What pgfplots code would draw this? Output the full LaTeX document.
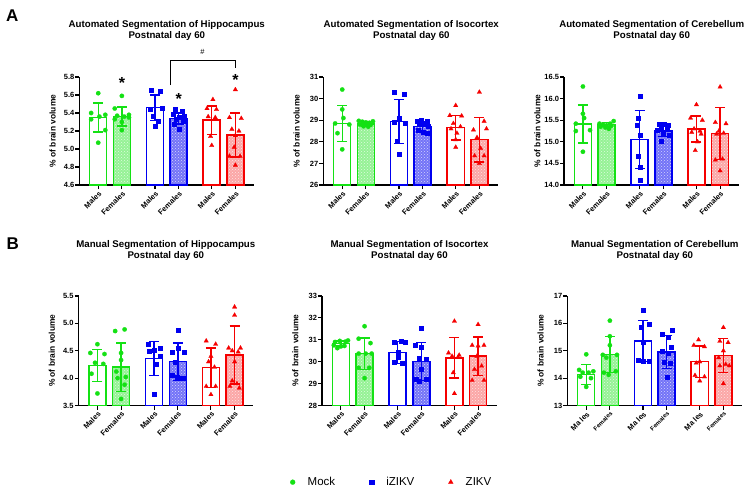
\documentclass[border=0pt]{standalone}
\usepackage{fontspec}
\setmainfont{Liberation Sans}
\usepackage{pgfplots}
\pgfplotsset{compat=1.18}
\usetikzlibrary{patterns}
\definecolor{mg}{RGB}{20,225,20}
\definecolor{mb}{RGB}{0,0,240}
\definecolor{mr}{RGB}{245,0,0}
\newcommand\tickfont{\bfseries\fontsize{7.5}{8}\selectfont}
\newcommand\labfont{\bfseries\fontsize{8.4}{9}\selectfont}
\newcommand\titfont{\bfseries\fontsize{9.7}{11}\selectfont}
\newcommand\astfont{\bfseries\fontsize{16}{16}\selectfont}
\pgfplotsset{
  panel/.style={
    scale only axis, width=175pt, height=108pt, anchor=south west,
    axis lines=left, axis line style={-, line width=1.4pt},
    xmin=-0.8, xmax=6.6,
    xtick={0,1,2.4,3.4,4.8,5.8},
    xticklabels={Males,Females,Males,Females,Males,Females},
    x tick label style={rotate=45, anchor=north east, font=\tickfont, inner sep=1pt},
    y tick label style={font=\tickfont, inner sep=0.8pt},
    tick style={black, line width=1.1pt},
    major tick length=4pt, tick align=outside,
    ylabel={\% of brain volume},
    ylabel style={font=\labfont, at={(axis description cs:-0.152,0.5)}, anchor=center},
    clip mode=individual,
    /pgf/number format/assume math mode=true,
  },
  mbar/.style={ybar, bar shift=0pt, bar width=0.72, draw=#1, line width=1.5pt, fill=white,
    error bars/y dir=both, error bars/y explicit,
    error bars/error bar style={line width=1.4pt, draw=#1},
    error bars/error mark options={rotate=90, mark size=5pt, line width=1.4pt, draw=#1}},
  fbar/.style 2 args={ybar, bar shift=0pt, bar width=0.72, draw=#1, line width=1.5pt, fill=#2,
    postaction={pattern=crosshatch dots, pattern color=white!70!#2},
    error bars/y dir=both, error bars/y explicit,
    error bars/error bar style={line width=1.4pt, draw=#1},
    error bars/error mark options={rotate=90, mark size=5pt, line width=1.4pt, draw=#1}},
  pts/.style 2 args={only marks, mark=#2, mark size=2.2pt, color=#1, mark options={fill=#1, draw=#1, line width=0.2pt}},
  gp/.style={pts={mg}{*}},
  bp/.style={pts={mb}{square*}, mark size=2pt},
  rp/.style={pts={mr}{triangle*}, mark size=2.6pt},
}
\begin{document}
\begin{tikzpicture}
\useasboundingbox (0,0) rectangle (751pt,-492pt);
% panel letters
\node[font=\bfseries\fontsize{17}{17}\selectfont, anchor=base west, inner sep=0pt] at (6pt,-21.7pt) {A};
\node[font=\bfseries\fontsize{17}{17}\selectfont, anchor=base west, inner sep=0pt] at (6.5pt,-249pt) {B};
% titles
\foreach \x/\t in {166.8/Hippocampus, 411.3/Isocortex, 651.7/Cerebellum}{
  \node[font=\titfont, anchor=base, inner sep=0pt] at (\x pt,-27.7pt) {Automated Segmentation of \t};
  \node[font=\titfont, anchor=base, inner sep=0pt] at (\x pt,-39pt) {Postnatal day 60};
}
\foreach \x/\t in {165.8/Hippocampus, 409.5/Isocortex, 654.8/Cerebellum}{
  \node[font=\titfont, anchor=base, inner sep=0pt] at (\x pt,-247pt) {Manual Segmentation of \t};
  \node[font=\titfont, anchor=base, inner sep=0pt] at (\x pt,-258.7pt) {Postnatal day 60};
}

% ---------- A1 ----------
\begin{axis}[panel, at={(79.3pt,-185pt)}, ymin=4.6, ymax=5.8,
  ytick={4.6,4.8,5.0,5.2,5.4,5.6,5.8},
  yticklabel style={/pgf/number format/.cd, fixed, fixed zerofill, precision=1}]
\addplot[mbar=mg] coordinates {(0,5.35) +- (0,0.16)};
\addplot[fbar={mg}{mg!45}] coordinates {(1,5.36) +- (0,0.105)};
\addplot[mbar=mb] coordinates {(2.4,5.46) +- (0,0.14)};
\addplot[fbar={mb}{mb!55}] coordinates {(3.4,5.34) +- (0,0.06)};
\addplot[mbar=mr] coordinates {(4.8,5.32) +- (0,0.16)};
\addplot[fbar={mr}{mr!35}] coordinates {(5.8,5.155) +- (0,0.245)};
\addplot[gp] coordinates {(0,5.62) (-0.3,5.40) (0.3,5.38) (0.05,5.36) (-0.3,5.33) (0.3,5.21) (0,5.07)};
\addplot[gp] coordinates {(1.0,5.59) (0.7,5.45) (1.3,5.38) (0.8,5.37) (1.1,5.36) (1.3,5.35) (0.7,5.33) (1.0,5.30) (1.0,5.21)};
\addplot[bp] coordinates {(2.25,5.65) (2.6,5.64) (2.7,5.45) (2.2,5.44) (2.3,5.37) (2.55,5.31) (2.4,5.25)};
\addplot[bp] coordinates {(3.25,5.44) (3.55,5.42) (3.15,5.39) (3.65,5.37) (3.4,5.35) (3.3,5.33) (3.6,5.31) (3.2,5.28) (3.4,5.22)};
\addplot[rp] coordinates {(4.85,5.55) (4.6,5.45) (5.0,5.44) (4.65,5.36) (4.95,5.35) (4.75,5.14) (4.8,5.04)};
\addplot[rp] coordinates {(5.8,5.66) (5.55,5.35) (6.05,5.34) (5.65,5.22) (5.95,5.20) (5.8,5.15) (5.75,5.02) (5.55,4.92) (6.0,4.92) (5.8,4.82)};
\node[anchor=north, inner sep=0pt, font=\astfont] at (axis cs:1,5.797) {*};
\node[anchor=north, inner sep=0pt, font=\astfont] at (axis cs:3.4,5.619) {*};
\node[anchor=north, inner sep=0pt, font=\astfont] at (axis cs:5.8,5.833) {*};
\draw[line width=1.2pt] (axis cs:3.04,5.71) -- (axis cs:3.04,5.98) -- (axis cs:5.8,5.98) -- (axis cs:5.8,5.90);
\node[font=\fontsize{7.5}{8}\selectfont, inner sep=0pt] at (axis cs:4.41,6.08) {\#};
\end{axis}

% ---------- A2 ----------
\begin{axis}[panel, at={(323.3pt,-185pt)}, ymin=26, ymax=31, ytick={26,27,28,29,30,31}]
\addplot[mbar=mg] coordinates {(0,28.85) +- (0,0.83)};
\addplot[fbar={mg}{mg!45}] coordinates {(1,28.82) +- (0,0.1)};
\addplot[mbar=mb] coordinates {(2.4,28.95) +- (0,1.02)};
\addplot[fbar={mb}{mb!55}] coordinates {(3.4,28.7) +- (0,0.25)};
\addplot[mbar=mr] coordinates {(4.8,28.66) +- (0,0.57)};
\addplot[fbar={mr}{mr!35}] coordinates {(5.8,28.1) +- (0,1.03)};
\addplot[gp] coordinates {(0,30.42) (0,29.5) (0.05,29.1) (-0.3,28.85) (0.3,28.8) (-0.2,28.4) (0,27.65)};
\addplot[gp] coordinates {(0.7,28.97) (0.85,28.93) (1.0,28.9) (1.15,28.88) (1.3,28.95) (0.75,28.8) (1.2,28.78) (0.9,28.72) (1.1,28.7)};
\addplot[bp] coordinates {(2.2,30.3) (2.6,30.2) (2.4,29.1) (2.2,28.9) (2.65,28.85) (2.3,28.05) (2.4,27.45)};
\addplot[bp] coordinates {(3.15,28.98) (3.35,29.0) (3.6,28.97) (3.25,28.85) (3.5,28.8) (3.65,28.75) (3.2,28.55) (3.4,28.45) (3.6,28.38)};
\addplot[rp] coordinates {(4.8,29.68) (4.55,29.22) (5.05,29.2) (4.7,28.85) (5.0,28.7) (4.6,28.6) (4.85,28.4) (4.8,28.1) (4.8,27.75)};
\addplot[rp] coordinates {(5.8,30.3) (6.0,28.95) (5.55,28.55) (6.1,28.6) (5.7,28.2) (5.85,27.7) (5.6,27.35) (6.0,27.35) (5.8,27.0)};
\end{axis}

% ---------- A3 ----------
\begin{axis}[panel, at={(564pt,-185pt)}, ymin=14, ymax=16.5,
  ytick={14,14.5,15,15.5,16,16.5},
  yticklabel style={/pgf/number format/.cd, fixed, fixed zerofill, precision=1}]
\addplot[mbar=mg] coordinates {(0,15.41) +- (0,0.44)};
\addplot[fbar={mg}{mg!45}] coordinates {(1,15.4) +- (0,0.05)};
\addplot[mbar=mb] coordinates {(2.4,15.05) +- (0,0.67)};
\addplot[fbar={mb}{mb!55}] coordinates {(3.4,15.25) +- (0,0.13)};
\addplot[mbar=mr] coordinates {(4.8,15.3) +- (0,0.3)};
\addplot[fbar={mr}{mr!35}] coordinates {(5.8,15.19) +- (0,0.6)};
\addplot[gp] coordinates {(0,16.28) (0,15.65) (0.05,15.55) (-0.3,15.42) (0.3,15.27) (-0.3,15.25) (0,14.77)};
\addplot[gp] coordinates {(0.7,15.42) (0.85,15.4) (1.0,15.38) (1.15,15.42) (1.3,15.48) (0.75,15.35) (1.2,15.37) (0.95,15.33) (1.1,15.3)};
\addplot[bp] coordinates {(2.4,16.06) (2.35,15.55) (2.3,15.38) (2.4,15.15) (2.35,14.67) (2.4,14.42) (2.4,14.12)};
\addplot[bp] coordinates {(3.2,15.42) (3.45,15.42) (3.6,15.38) (3.3,15.35) (3.55,15.3) (3.15,15.27) (3.4,15.2) (3.65,15.15) (3.3,15.01)};
\addplot[rp] coordinates {(4.8,15.86) (4.55,15.55) (5.05,15.5) (4.7,15.3) (4.95,15.25) (4.6,15.22) (5.0,15.18) (4.85,15.0) (4.75,14.8)};
\addplot[rp] coordinates {(5.8,16.27) (5.6,15.45) (6.05,15.42) (5.75,15.25) (5.95,15.2) (5.65,15.18) (5.9,14.6) (5.6,14.58) (5.8,14.33)};
\end{axis}

% ---------- B1 ----------
\begin{axis}[panel, at={(78.5pt,-405.5pt)}, height=109.5pt, ymin=3.5, ymax=5.5,
  ytick={3.5,4,4.5,5,5.5},
  yticklabel style={/pgf/number format/.cd, fixed, fixed zerofill, precision=1}]
\addplot[mbar=mg] coordinates {(0,4.23) +- (0,0.29)};
\addplot[fbar={mg}{mg!45}] coordinates {(1,4.2) +- (0,0.44)};
\addplot[mbar=mb] coordinates {(2.4,4.36) +- (0,0.31)};
\addplot[fbar={mb}{mb!55}] coordinates {(3.4,4.3) +- (0,0.34)};
\addplot[mbar=mr] coordinates {(4.8,4.19) +- (0,0.36)};
\addplot[fbar={mr}{mr!35}] coordinates {(5.8,4.42) +- (0,0.53)};
\addplot[gp] coordinates {(0,4.62) (-0.3,4.46) (0.3,4.44) (-0.1,4.28) (0.25,4.26) (-0.25,4.08) (0,3.72)};
\addplot[gp] coordinates {(0.75,4.86) (1.15,4.89) (1.0,4.46) (1.0,4.33) (0.8,4.12) (1.2,4.02) (0.85,4.0) (1.15,3.88) (1.0,3.62)};
\addplot[bp] coordinates {(2.15,4.62) (2.4,4.52) (2.65,4.55) (2.65,4.4) (2.2,4.49) (2.5,4.25) (2.4,3.7)};
\addplot[bp] coordinates {(3.4,4.88) (3.4,4.55) (3.15,4.48) (3.65,4.47) (3.3,4.3) (3.15,4.05) (3.35,4.02) (3.55,4.0) (3.65,4.0)};
\addplot[rp] coordinates {(4.6,4.68) (5.0,4.62) (4.8,4.4) (4.7,4.3) (4.95,4.2) (4.6,3.85) (5.0,3.85) (4.8,3.7)};
\addplot[rp] coordinates {(5.8,5.3) (5.8,5.15) (5.55,4.55) (6.05,4.55) (5.7,4.5) (5.95,4.48) (5.8,4.3) (5.7,3.95) (5.9,3.9) (5.6,3.85) (6.0,3.82)};
\end{axis}

% ---------- B2 ----------
\begin{axis}[panel, at={(322pt,-405.5pt)}, height=109.5pt, ymin=28, ymax=33, ytick={28,29,30,31,32,33},
  legend style={at={(axis description cs:-0.2,-0.70)}, anchor=west, draw=none, fill=none,
    legend columns=3, font=\fontsize{11.5}{12}\selectfont,
    /tikz/every odd column/.append style={column sep=10.5pt},
    /tikz/every even column/.append style={column sep=32pt}}]
\addplot[mbar=mg, forget plot] coordinates {(0,30.83) +- (0,0.11)};
\addplot[fbar={mg}{mg!45}, forget plot] coordinates {(1,30.37) +- (0,0.72)};
\addplot[mbar=mb, forget plot] coordinates {(2.4,30.42) +- (0,0.5)};
\addplot[fbar={mb}{mb!55}, forget plot] coordinates {(3.4,30.0) +- (0,0.87)};
\addplot[mbar=mr, forget plot] coordinates {(4.8,30.18) +- (0,0.93)};
\addplot[fbar={mr}{mr!35}, forget plot] coordinates {(5.8,30.25) +- (0,0.87)};
\addplot[gp, forget plot] coordinates {(-0.25,30.9) (-0.05,30.95) (0.2,30.92) (0.3,30.97) (-0.3,30.75) (0.0,30.7) (0.15,30.72) (-0.15,30.62)};
\addplot[gp, forget plot] coordinates {(1.0,31.62) (0.75,31.05) (1.25,30.85) (0.75,30.37) (1.05,30.37) (1.3,30.37) (0.75,29.72) (1.2,29.72) (1.0,29.25)};
\addplot[bp, forget plot] coordinates {(2.25,30.9) (2.55,30.95) (2.7,30.88) (2.4,30.45) (2.25,30.0) (2.6,29.92) (2.4,30.2)};
\addplot[bp, forget plot] coordinates {(3.4,31.52) (3.15,30.75) (3.4,30.65) (3.3,30.15) (3.6,30.12) (3.4,29.65) (3.2,29.22) (3.6,29.2) (3.3,29.1)};
\addplot[rp, forget plot] coordinates {(4.8,31.85) (4.55,30.4) (5.0,30.3) (4.7,30.25) (4.95,30.2) (4.75,29.5) (4.8,28.55)};
\addplot[rp, forget plot] coordinates {(5.8,31.7) (5.55,30.75) (6.05,30.75) (5.8,30.72) (5.75,30.25) (5.95,29.8) (5.65,29.65) (5.55,29.15) (6.05,29.15)};
\addlegendimage{gp, mark size=2.5pt}
\addlegendentry{Mock}
\addlegendimage{bp, mark size=2.3pt}
\addlegendentry{iZIKV}
\addlegendimage{rp, mark size=2.8pt}
\addlegendentry{ZIKV}
\end{axis}

% ---------- B3 ----------
\begin{axis}[panel, at={(567.3pt,-405.5pt)}, height=109.5pt, ymin=13, ymax=17, ytick={13,14,15,16,17},
  xticklabels={Ma les,{\fontsize{6}{6}\selectfont Females},Ma les,{\fontsize{6}{6}\selectfont Females},Ma les,{\fontsize{6}{6}\selectfont Females}}]
\addplot[mbar=mg] coordinates {(0,14.13) +- (0,0.36)};
\addplot[fbar={mg}{mg!45}] coordinates {(1,14.86) +- (0,0.66)};
\addplot[mbar=mb] coordinates {(2.4,15.35) +- (0,0.75)};
\addplot[fbar={mb}{mb!55}] coordinates {(3.4,14.96) +- (0,0.6)};
\addplot[mbar=mr] coordinates {(4.8,14.6) +- (0,0.58)};
\addplot[fbar={mr}{mr!35}] coordinates {(5.8,14.82) +- (0,0.62)};
\addplot[gp] coordinates {(0,14.87) (-0.3,14.3) (0.3,14.25) (-0.15,14.2) (0.1,14.2) (-0.25,14.05) (0.2,14.0) (0,13.68)};
\addplot[gp] coordinates {(1.0,16.1) (1.0,15.53) (1.0,15.2) (0.7,14.85) (1.3,14.85) (0.85,14.75) (0.75,14.2) (1.25,14.25) (0.95,14.12)};
\addplot[bp] coordinates {(2.4,16.47) (2.65,15.97) (2.3,15.87) (2.4,15.3) (2.2,14.65) (2.4,14.63) (2.65,14.63)};
\addplot[bp] coordinates {(3.65,15.77) (3.2,15.62) (3.45,15.5) (3.6,15.12) (3.2,15.0) (3.45,14.9) (3.3,14.6) (3.55,14.55) (3.4,14.05)};
\addplot[rp] coordinates {(4.75,15.4) (4.55,15.2) (5.0,15.15) (4.8,14.6) (4.65,14.55) (4.6,14.1) (5.0,14.05) (4.8,13.9)};
\addplot[rp] coordinates {(5.8,15.85) (5.65,15.35) (6.0,15.3) (5.8,15.0) (5.6,14.75) (5.9,14.5) (5.65,14.45) (6.05,14.45) (5.8,13.8)};
\end{axis}
\end{tikzpicture}
\end{document}
